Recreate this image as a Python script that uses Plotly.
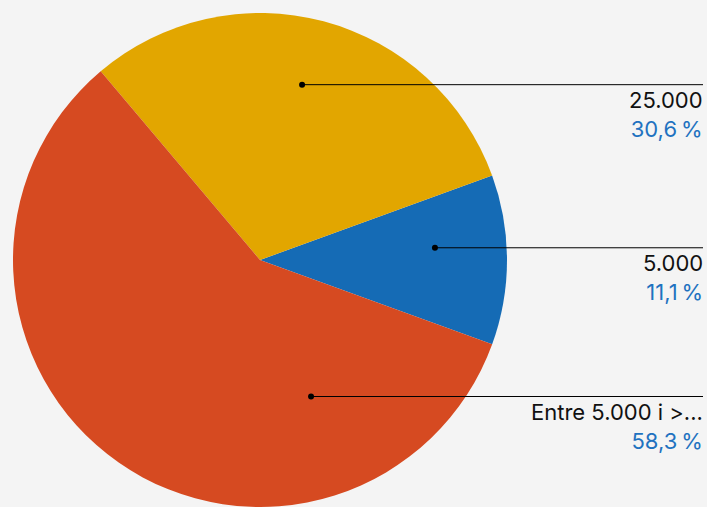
import plotly.graph_objects as go
import math

labels = ["5.000", "25.000", "Entre 5.000 i >..."]
values = [11.1, 30.6, 58.3]
pct_text = ["11,1\u2009%", "30,6\u2009%", "58,3\u2009%"]
colors = ["#156bb5", "#e2a600", "#d64a21"]

W, H = 707, 507
mt, mb = 13, 0
plot_h = H - mt - mb
R = plot_h / 2
cx, cy = 260, mt + R  # pixel center (from top)
dom_x1 = 2 * cx / W

fig = go.Figure()
fig.add_trace(go.Pie(
    labels=labels, values=values, sort=False, direction="counterclockwise",
    rotation=70, marker=dict(colors=colors, line=dict(width=0)),
    textinfo="none", hoverinfo="label+percent", showlegend=False,
    domain=dict(x=[0, dom_x1], y=[0, 1]),
))

# anchor points inside slices (angle in degrees, fraction of radius)
anchors = [(4.0, 0.71), (76.5, 0.73), (-69.5, 0.59)]


def to_paper(px, py):
    return px / W, 1 - (py - mt) / plot_h


shapes = []
annotations = []
for i, (ang, frac) in enumerate(anchors):
    px = cx + R * frac * math.cos(math.radians(ang))
    py = cy - R * frac * math.sin(math.radians(ang))
    xp, yp = to_paper(px, py)
    x1, _ = to_paper(703, py)
    shapes.append(dict(type="line", xref="paper", yref="paper", x0=xp, x1=x1,
                       y0=yp, y1=yp, line=dict(color="#000000", width=1)))
    ca, cb = to_paper(px - 3, py + 3)
    cc, cd = to_paper(px + 3, py - 3)
    shapes.append(dict(type="circle", xref="paper", yref="paper",
                       x0=ca, x1=cc, y0=cb, y1=cd,
                       fillcolor="#000000", line=dict(width=0)))
    xa, _ = to_paper(705, py)
    annotations.append(dict(
        xref="paper", yref="paper", x=xa, y=yp, xanchor="right", yanchor="top",
        showarrow=False, align="right",
        text=f"{labels[i]}<br><span style='color:#1f72c0'>{pct_text[i]}</span>",
        font=dict(family="Inter", size=22, color="#111111"),
    ))

fig.update_layout(
    width=W, height=H, margin=dict(l=0, r=0, t=mt, b=mb),
    paper_bgcolor="#f4f4f4", plot_bgcolor="#f4f4f4",
    shapes=shapes, annotations=annotations,
)
fig.write_html("out.html", config={"displayModeBar": False},
               post_script="document.body.style.margin='0';document.body.style.overflow='hidden';")
